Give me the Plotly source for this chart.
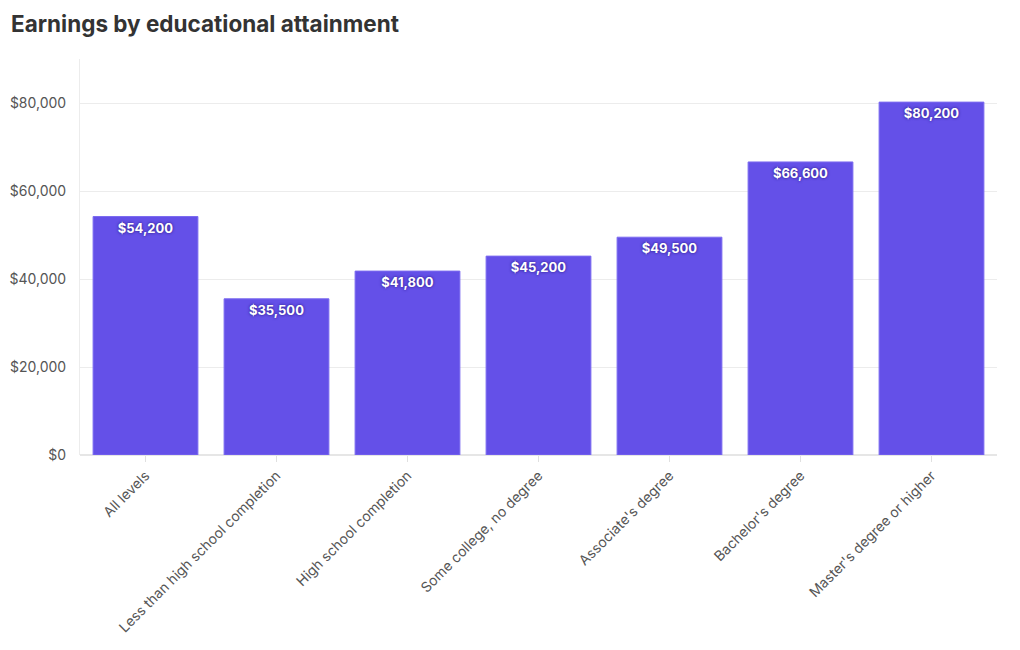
import plotly.graph_objects as go

categories = ["All levels", "Less than high school completion", "High school completion",
              "Some college, no degree", "Associate's degree", "Bachelor's degree",
              "Master's degree or higher"]
earnings = [54200, 35500, 41800, 45200, 49500, 66600, 80200]
y_ticks = [0, 20000, 40000, 60000, 80000]
y_tick_labels = ["$0", "$20,000", "$40,000", "$60,000", "$80,000"]

bars = go.Bar(
    x=categories,
    y=earnings,
    marker=dict(color="#6450e8", line=dict(color="#7b6af0", width=1)),
    text=[f"${v:,}" for v in earnings],
    textposition="inside",
    insidetextanchor="end",
    textangle=0,
    textfont=dict(family="Inter", size=13, color="white", weight="bold",
                  shadow="0px 0px 3px #24157a"),
    cliponaxis=False,
)

# the page body adds an 8px margin, so the figure is 8px smaller
fig = go.Figure(data=bars)
fig.update_layout(
    width=1012, height=642,
    paper_bgcolor="white", plot_bgcolor="white",
    margin=dict(l=72, r=23, t=51, b=195),
    bargap=0.2,
    showlegend=False,
    font=dict(family="Inter", color="#555555"),
    title=dict(text="<b>Earnings by educational attainment</b>",
               xref="container", x=3 / 1012, xanchor="left",
               yref="container", y=1 - 16 / 642, yanchor="middle",
               font=dict(family="Inter", size=22.5, color="#333333")),
)
fig.update_yaxes(
    range=[0, 90000], tickvals=y_ticks, ticktext=y_tick_labels,
    showgrid=True, gridcolor="#ececec", zeroline=True, zerolinecolor="#e6e6e6",
    showline=True, linecolor="#ececec", tickfont=dict(size=14, color="#555555"),
    ticks="", ticklabelstandoff=10, automargin=False,
)
fig.update_xaxes(
    tickangle=-45, ticks="outside", tickcolor="#e0e0e0", ticklen=6,
    showline=False, tickfont=dict(size=14, color="#555555"), automargin=False,
)
fig.write_html("out.html")
